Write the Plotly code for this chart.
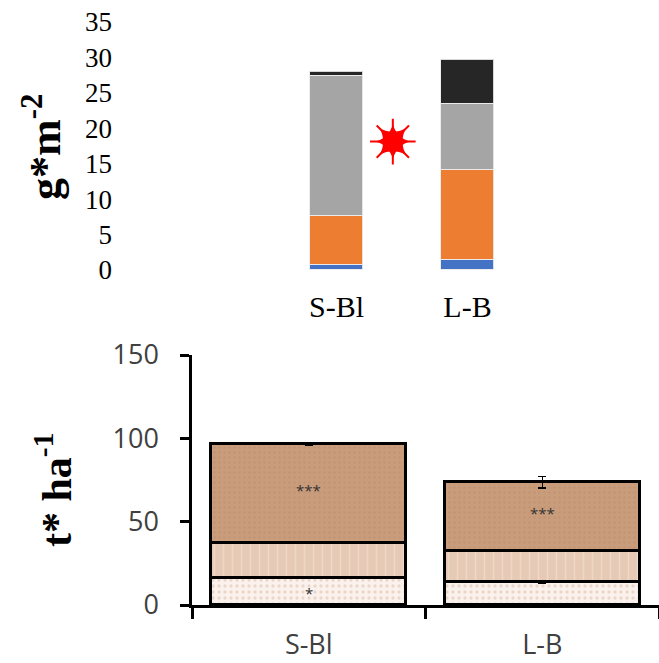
import plotly.graph_objects as go

# ---------------- data: top chart (g*m-2) ----------------
top_categories = ["S-Bl", "L-B"]
top_blue = [0.7, 1.4]
top_orange = [7.0, 12.8]
top_gray = [19.7, 9.2]
top_black = [0.6, 6.3]
top_yticks = [0, 5, 10, 15, 20, 25, 30, 35]
star_x = [0.43]
star_y = [18.1]

# ---------------- data: bottom chart (t* ha-1) ----------------
bot_categories = ["S-Bl", "L-B"]
bot_low = [16.0, 14.0]
bot_mid = [21.0, 18.6]
bot_high = [59.6, 41.0]
bot_low_err = [0.0, 0.8]
bot_high_err = [1.0, 3.5]
bot_yticks = [0, 50, 100, 150]
sig_high = ["***", "***"]
sig_low = ["*", ""]

W, H = 659, 663
def px_x(p):
    return p / W
def px_y(p):
    return (H - p) / H

serif = "Liberation Serif, Times New Roman, serif"
sans = "Open Sans, Lato, sans-serif"

fig = go.Figure()

xs_top = list(range(len(top_categories)))
seg_line = dict(color="rgba(235,235,235,0.9)", width=1)
for vals, col in [(top_blue, "#4472c4"), (top_orange, "#ed7d31"),
                  (top_gray, "#a5a5a5"), (top_black, "#262626")]:
    fig.add_trace(go.Bar(x=xs_top, y=vals, width=0.4, marker=dict(color=col, line=seg_line),
                         xaxis="x", yaxis="y", showlegend=False, hoverinfo="skip"))

# red burst star
fig.add_trace(go.Scatter(x=star_x, y=star_y, mode="markers", xaxis="x", yaxis="y",
                         marker=dict(symbol="asterisk-open", size=38, color="red",
                                     line=dict(color="red", width=2)),
                         showlegend=False, hoverinfo="skip"))
for sym in ["star-square", "star-diamond"]:
    fig.add_trace(go.Scatter(x=star_x, y=star_y, mode="markers", xaxis="x", yaxis="y",
                             marker=dict(symbol=sym, size=25, color="red", line=dict(width=0)),
                             showlegend=False, hoverinfo="skip"))

# bottom stacked bars with patterns
bw = 0.835
blk = dict(color="black", width=3)
fig.add_trace(go.Bar(x=bot_categories, y=bot_low, width=bw, xaxis="x2", yaxis="y2",
                     error_y=dict(type="data", array=bot_low_err, color="black", thickness=1.5, width=4),
                     marker=dict(color="#fbf2ed", line=blk,
                                 pattern=dict(shape=".", fgcolor="#dcbca6", bgcolor="#fbf2ed",
                                              size=6, solidity=0.25)),
                     showlegend=False, hoverinfo="skip"))
fig.add_trace(go.Bar(x=bot_categories, y=bot_mid, width=bw, xaxis="x2", yaxis="y2",
                     marker=dict(color="#e6cab5", line=blk,
                                 pattern=dict(shape="|", fgcolor="#f5e6da", bgcolor="#e6cab5",
                                              size=9, solidity=0.15)),
                     showlegend=False, hoverinfo="skip"))
fig.add_trace(go.Bar(x=bot_categories, y=bot_high, width=bw, xaxis="x2", yaxis="y2",
                     error_y=dict(type="data", array=bot_high_err, color="black", thickness=1.5, width=4),
                     marker=dict(color="#c99c7c", line=blk,
                                 pattern=dict(shape=".", fgcolor="#b98c6c", bgcolor="#c99c7c",
                                              size=5, solidity=0.2)),
                     showlegend=False, hoverinfo="skip"))

annotations = []
for i, c in enumerate(bot_categories):
    base_high = bot_low[i] + bot_mid[i]
    if sig_high[i]:
        annotations.append(dict(x=c, y=base_high + bot_high[i] / 2 + 2, xref="x2", yref="y2",
                                text=sig_high[i], showarrow=False,
                                font=dict(family=sans, size=15, color="#333333")))
    if sig_low[i]:
        annotations.append(dict(x=c, y=bot_low[i] / 2 - 1, xref="x2", yref="y2",
                                text=sig_low[i], showarrow=False,
                                font=dict(family=sans, size=15, color="#333333")))

annotations.append(dict(x=px_x(42), y=px_y(147), xref="paper", yref="paper",
                        xanchor="center", yanchor="middle",
                        text="<b>g*m<sup>-2</sup></b>", textangle=-90, showarrow=False,
                        font=dict(family=serif, size=44, color="black")))
annotations.append(dict(x=px_x(53), y=px_y(490), xref="paper", yref="paper",
                        xanchor="center", yanchor="middle",
                        text="<b>t* ha<sup>-1</sup></b>", textangle=-90, showarrow=False,
                        font=dict(family=serif, size=42, color="black")))

fig.update_layout(
    width=W, height=H, autosize=False,
    margin=dict(l=0, r=0, t=0, b=0, pad=0),
    paper_bgcolor="white", plot_bgcolor="rgba(0,0,0,0)",
    barmode="stack", bargap=0,
    annotations=annotations,
    xaxis=dict(domain=[px_x(271), px_x(533)], range=[-0.5, 1.5], anchor="y", automargin=False,
               tickvals=xs_top, ticktext=top_categories, showline=False, showgrid=False,
               zeroline=False, ticks="", ticklabelstandoff=16,
               tickfont=dict(family=serif, size=30, color="black")),
    yaxis=dict(domain=[px_y(270), px_y(21.7)], range=[0, 35], anchor="free", automargin=False,
               position=px_x(112), tickvals=top_yticks, showline=False, showgrid=False,
               zeroline=False, ticks="",
               tickfont=dict(family=serif, size=27, color="black")),
    xaxis2=dict(domain=[px_x(192), 1.0], range=[-0.5, 1.5], anchor="y2", type="category",
                automargin=False,
                showline=True, linecolor="black", linewidth=2.5, showgrid=False,
                ticks="outside", tickson="boundaries", ticklen=11, tickwidth=2.5,
                tickcolor="black", ticklabelstandoff=14,
                tickfont=dict(family=sans, size=27, color="#404040")),
    yaxis2=dict(domain=[px_y(605), px_y(355)], range=[0, 150], anchor="x2", automargin=False,
                tickvals=bot_yticks, showline=True, linecolor="black", linewidth=2.5,
                showgrid=False, zeroline=False, ticks="outside", ticklen=9, tickwidth=2.5,
                tickcolor="black", ticklabelstandoff=16,
                tickfont=dict(family=sans, size=27, color="#404040")),
)

fig.write_html("out.html", config={"displayModeBar": False},
               post_script="document.body.style.margin='0';document.body.style.overflow='hidden';")
